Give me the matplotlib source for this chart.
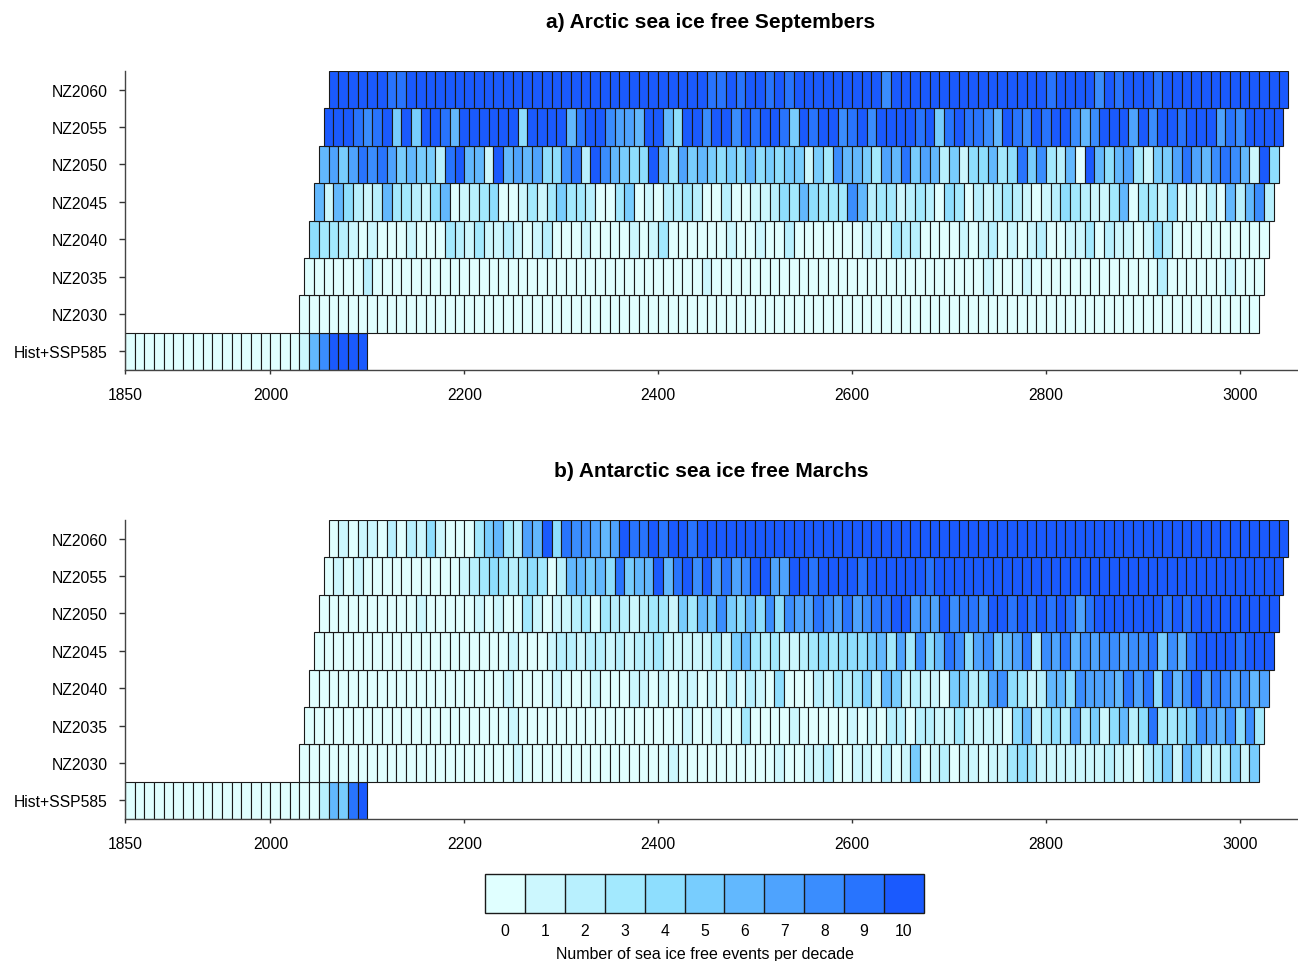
import matplotlib
matplotlib.use('Agg')
import matplotlib.pyplot as plt
from matplotlib.colors import ListedColormap, BoundaryNorm
import matplotlib.colorbar as mcolorbar

plt.rcParams['font.family'] = ['Liberation Sans', 'DejaVu Sans']

# rows, bottom to top
ROW_LABELS = ['Hist+SSP585', 'NZ2030', 'NZ2035', 'NZ2040', 'NZ2045', 'NZ2050', 'NZ2055', 'NZ2060']
START_YEARS = [1850, 2030, 2035, 2040, 2045, 2050, 2055, 2060]
DECADE = 10
LEVELS = list(range(11))
XTICKS = [1850, 2000, 2200, 2400, 2600, 2800, 3000]

COLORS = ['#e0ffff', '#ccf7fe', '#b8f0fe', '#a3e9fe', '#8edefe', '#78cdfe',
          '#62b8fe', '#4ea3fe', '#3a8dfe', '#2874fe', '#1a5afe']

# ---- a) Arctic, sea ice free events per decade ----
arc_hist = [0] * 18 + [1, 6, 8, 10, 10, 10, 10]
arc_nz2030 = [0] * 99
arc_nz2035 = ([0, 0, 0, 0, 0, 0, 2, 0] + [0] * 18
              + [0] * 15 + [1] + [0] * 10
              + [0] * 18 + [1, 0, 0, 0, 1, 0, 0]
              + [0] * 11 + [2, 0, 0, 0, 0, 0, 0, 1, 0, 0, 0])
arc_nz2040 = [4, 3, 3, 2, 1, 0, 1, 0, 0, 0, 1, 0, 0, 0, 3, 2, 1, 3, 1, 1, 2, 1, 0, 1, 2,
              0, 0, 0, 1, 0, 0, 0, 0, 1, 0, 1, 3, 0, 0, 0, 0, 0, 0, 1, 0, 0, 1, 0, 0, 2, 0,
              0, 0, 0, 0, 0, 0, 1, 1, 0, 3, 2, 2, 0, 0, 0, 0, 1, 0, 1, 2, 0, 1, 0, 1, 2, 0,
              0, 1, 1, 3, 0, 2, 1, 1, 0, 1, 4, 2, 0, 0, 0, 0, 0, 0, 0, 0, 0, 0]
arc_nz2045 = [6, 1, 6, 4, 2, 1, 2, 6, 3, 3, 2, 1, 4, 6, 0, 1, 2, 3, 4, 0, 0, 1, 3, 1,
              3, 5, 3, 3, 2, 0, 0, 3, 5, 0, 1, 0, 2, 2, 3, 2, 0, 0, 2, 0, 0, 1, 1, 2, 4, 3,
              6, 4, 3, 3, 3, 8, 6, 2, 3, 3, 1, 2, 3, 2, 0, 4, 3, 0, 2, 1, 2, 3, 2, 1, 0, 1,
              2, 4, 3, 2, 1, 1, 3, 6, 0, 3, 3, 1, 4, 0, 1, 0, 2, 0, 6, 2, 6, 8, 2]
arc_nz2050 = [6, 7, 5, 7, 9, 8, 9, 7, 5, 6, 5, 5, 2, 9, 10, 6, 6, 1, 10, 6, 7, 6, 7, 4,
              4, 8, 9, 2, 10, 8, 6, 5, 4, 4, 10, 6, 3, 7, 5, 6, 5, 4, 5, 4, 6, 4, 5, 4, 5, 5,
              1, 5, 3, 8, 6, 6, 5, 3, 7, 6, 9, 5, 7, 6, 2, 5, 1, 4, 4, 6, 3, 4, 9, 5, 8, 3,
              2, 6, 0, 10, 6, 4, 6, 7, 3, 1, 5, 5, 7, 9, 7, 6, 8, 9, 8, 6, 1, 10, 4]
arc_nz2055 = [10, 10, 10, 9, 8, 9, 10, 5, 10, 5, 10, 10, 9, 6, 10, 10, 10, 10, 10, 10, 4, 10, 10,
              10, 10, 6, 9, 10, 10, 8, 7, 7, 6, 10, 10, 6, 4, 10, 10, 8, 10, 10, 8, 10, 9, 10, 10, 9, 5,
              10, 9, 10, 10, 8, 9, 10, 8, 10, 10, 10, 10, 9, 10, 5, 9, 10, 9, 9, 8, 6, 10, 9, 8, 10, 9,
              10, 10, 8, 6, 8, 10, 10, 10, 7, 10, 8, 10, 10, 9, 10, 10, 10, 7, 9, 8, 10, 10, 10, 10]
arc_nz2060 = ([10, 10, 10, 10, 10, 10, 9, 9] + [10] * 15
              + [10] * 16 + [9, 9, 10, 9, 10, 10, 9, 10, 9, 10]
              + [10] * 8 + [8] + [10] * 16 + [9]
              + [10, 10, 10, 10, 8, 10, 9, 10, 10, 10, 9] + [10] * 13)

# ---- b) Antarctic ----
ant_hist = [0] * 20 + [2, 6, 5, 9, 10]
ant_nz2030 = ([0] * 22 + [1, 0, 0, 0]
              + [0] * 12 + [1] + [0] * 10 + [1, 0, 0]
              + [1, 1, 2, 0, 0, 1, 1, 0, 2, 0, 1, 5, 0, 1, 2, 0, 1, 1, 0, 1, 1, 3, 4, 3, 1]
              + [1, 1, 1, 1, 1, 1, 2, 1, 1, 0, 2, 3, 5, 1, 6, 4, 1, 2, 2, 5, 1, 5])
ant_nz2035 = ([0] * 21 + [1, 0, 0, 0, 0]
              + [0] * 13 + [1, 0, 0, 1, 0, 0, 3, 0, 0, 0, 0, 1, 0]
              + [0, 0, 0, 0, 1, 0, 1, 0, 2, 2, 0, 2, 2, 1, 1, 3, 1, 1, 1, 1, 0, 4, 6, 1, 3]
              + [4, 2, 7, 2, 5, 1, 4, 6, 2, 4, 9, 3, 3, 4, 5, 8, 7, 6, 8, 4, 8, 3])
ant_nz2040 = ([0] * 20 + [1, 0, 0, 0, 0]
              + [1, 0, 0, 0, 1, 0, 0, 0, 1, 1, 0, 1, 0, 1, 1, 0, 1, 0, 2, 0, 2, 1, 0, 4, 0, 0]
              + [0, 2, 1, 3, 2, 3, 5, 1, 6, 5, 1, 2, 1, 1, 0, 5, 5, 2, 3, 7, 8, 4, 3, 1, 2, 6]
              + [6, 4, 8, 7, 7, 7, 6, 9, 7, 9, 4, 9, 6, 8, 10, 7, 9, 8, 7, 8, 6, 7])
ant_nz2045 = ([0] * 20 + [1, 0, 0, 0]
              + [1, 2, 2, 1, 2, 2, 1, 2, 1, 2, 2, 3, 1, 1, 1, 1, 1, 3, 1, 5, 6, 3, 2, 3, 1, 1]
              + [2, 3, 4, 3, 4, 4, 4, 5, 6, 3, 7, 3, 8, 4, 6, 9, 8, 4, 7, 8, 5, 6, 7, 9, 2, 8]
              + [7, 9, 6, 8, 7, 8, 8, 7, 8, 8, 9, 5, 8, 6, 9, 10, 10, 10, 10, 9, 10, 10, 10])
ant_nz2050 = ([0, 0, 0, 0, 0, 0, 0, 0, 0, 0, 1, 0, 0, 0, 0, 0, 1, 0, 1, 0, 0, 3, 1, 0]
              + [1, 1, 2, 3, 0, 3, 2, 2, 1, 2, 3, 3, 1, 5, 3, 6, 5, 8, 5, 4, 6, 4, 8, 4, 8, 7]
              + [7, 9, 8, 7, 9, 7, 8, 9, 9, 10, 10, 7, 8, 7, 10, 8, 9, 9, 8, 10, 10, 9, 10, 9, 10, 9]
              + [10, 9, 7, 9, 10, 10, 10, 10, 10, 10, 10, 9, 10, 9, 10, 10, 10, 10, 10, 10, 10, 10, 10])
ant_nz2055 = ([0, 1, 0, 1, 0, 0, 0, 0, 0, 0, 0, 0, 0, 0, 1, 2, 3, 4, 3, 2, 3, 4, 3]
              + [0, 2, 6, 6, 5, 6, 4, 9, 5, 6, 6, 10, 6, 9, 10, 8, 10, 7, 9, 7, 8, 10, 10, 7, 7, 10]
              + [10, 9, 10, 10, 10, 10, 9, 10, 10, 10, 10, 10, 10, 9] + [10] * 12
              + [10] * 24)
ant_nz2060 = ([0, 1, 0, 1, 1, 0, 2, 0, 2, 1, 4, 1, 0, 0, 0, 3, 5, 6, 3, 2, 7, 6, 10]
              + [4, 9, 8, 8, 7, 6, 7, 10, 9, 9, 10, 9, 10, 10, 9] + [10] * 11
              + [10] * 50)

ARCTIC = [arc_hist, arc_nz2030, arc_nz2035, arc_nz2040, arc_nz2045, arc_nz2050, arc_nz2055, arc_nz2060]
ANTARCTIC = [ant_hist, ant_nz2030, ant_nz2035, ant_nz2040, ant_nz2045, ant_nz2050, ant_nz2055, ant_nz2060]

cmap = ListedColormap(COLORS)
bounds = [v - 0.5 for v in LEVELS] + [LEVELS[-1] + 0.5]
norm = BoundaryNorm(bounds, cmap.N)

W, H = 1298, 962
fig = plt.figure(figsize=(W / 100, H / 100), dpi=100)


def draw_panel(rect, rows, title, title_y):
    ax = fig.add_axes(rect)
    for i, (start, vals) in enumerate(zip(START_YEARS, rows)):
        lefts = [start + DECADE * k for k in range(len(vals))]
        ax.bar(lefts, 1.0, width=DECADE, bottom=i - 0.5, align='edge',
               color=cmap(norm(vals)), edgecolor='#1a1a1a', linewidth=0.8)
    ax.set_xlim(1850, 3059)
    ax.set_ylim(-0.5, 7.5)
    ax.set_yticks(range(len(ROW_LABELS)))
    ax.set_yticklabels(ROW_LABELS, fontsize=11.3)
    ax.set_xticks(XTICKS)
    ax.set_xticklabels([str(x) for x in XTICKS], fontsize=11.3)
    ax.tick_params(axis='y', direction='out', length=4.5, width=1, pad=8, color='#333333')
    ax.tick_params(axis='x', direction='out', length=3, width=1, pad=9, color='#333333')
    for s in ['top', 'right']:
        ax.spines[s].set_visible(False)
    for s in ['left', 'bottom']:
        ax.spines[s].set_color('#444444')
        ax.spines[s].set_linewidth(1.0)
    fig.text(711 / W, title_y, title, ha='center', va='center',
             fontsize=15, fontweight='bold')
    return ax


draw_panel([125 / W, 1 - 371 / H, 1172 / W, 299 / H], ARCTIC,
           'a) Arctic sea ice free Septembers', 1 - 23 / H)
draw_panel([125 / W, 1 - 820 / H, 1172 / W, 299 / H], ANTARCTIC,
           'b) Antarctic sea ice free Marchs', 1 - 472 / H)

cax = fig.add_axes([485 / W, 1 - 914 / H, 439 / W, 39 / H])
cb = mcolorbar.ColorbarBase(cax, cmap=cmap, norm=norm, boundaries=bounds,
                            ticks=LEVELS, orientation='horizontal', drawedges=True)
cb.minorticks_off()
cb.outline.set_linewidth(1.0)
cb.outline.set_edgecolor('#1a1a1a')
cb.dividers.set_color('#1a1a1a')
cb.dividers.set_linewidth(1.0)
cax.tick_params(which='both', length=0, pad=7, labelsize=11.3)
cb.set_label('Number of sea ice free events per decade', fontsize=11.5, labelpad=6)

fig.savefig('out.png', dpi=100)
